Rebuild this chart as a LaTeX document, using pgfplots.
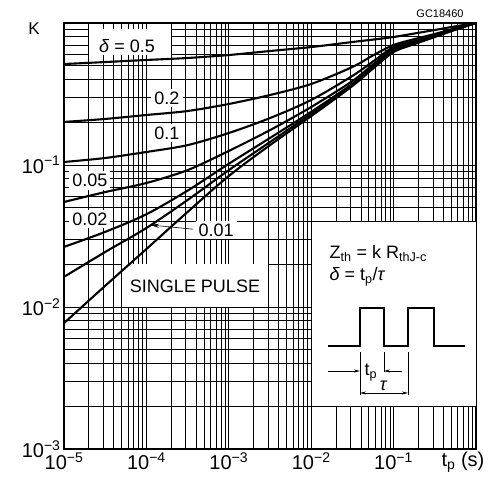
\documentclass[border=0pt]{standalone}
\usepackage{fontspec}
\setmainfont{Liberation Sans}
\usepackage{pgfplots}
\pgfplotsset{compat=1.18}
\usetikzlibrary{arrows.meta}
\newcommand{\lab}{\fontsize{18}{21}\selectfont}
\newcommand{\tck}{\fontsize{20}{24}\selectfont}
\pgfplotsset{curve/.style={black, line width=2.1pt, smooth, mark=none}}
\begin{document}
\begin{tikzpicture}[x=1pt,y=1pt]
\useasboundingbox (0,0) rectangle (495,479);
\begin{axis}[
    at={(64pt,30pt)}, anchor=south west,
    scale only axis, width=412pt, height=426pt,
    xmode=log, ymode=log,
    xmin=1e-5, xmax=1, ymin=1e-3, ymax=1,
    xtick={1e-5,1e-4,1e-3,1e-2,1e-1,1},
    xticklabels={10\textsuperscript{−5},10\textsuperscript{−4},10\textsuperscript{−3},10\textsuperscript{−2},10\textsuperscript{−1},},
    ytick={1e-3,1e-2,1e-1,1},
    yticklabels={10\textsuperscript{−3},10\textsuperscript{−2},10\textsuperscript{−1},},
    minor xtick={2e-5,3e-5,4e-5,5e-5,6e-5,7e-5,8e-5,9e-5,
                 2e-4,3e-4,4e-4,5e-4,6e-4,7e-4,8e-4,9e-4,
                 2e-3,3e-3,4e-3,5e-3,6e-3,7e-3,8e-3,9e-3,
                 2e-2,3e-2,4e-2,5e-2,6e-2,7e-2,8e-2,9e-2,
                 0.2,0.3,0.4,0.5,0.6,0.7,0.8,0.9},
    minor ytick={2e-3,3e-3,4e-3,5e-3,6e-3,7e-3,8e-3,9e-3,
                 2e-2,3e-2,4e-2,5e-2,6e-2,7e-2,8e-2,9e-2,
                 0.2,0.3,0.4,0.5,0.6,0.7,0.8,0.9},
    grid=both,
    major grid style={black, line width=0.6pt},
    minor grid style={black, line width=0.6pt},
    tick style={draw=none},
    axis line style={line width=1.1pt},
    ticklabel style={font=\tck},
]
% cut-outs in the grid
\fill[white] (axis cs:2e-5,0.6) rectangle (axis cs:2e-4,0.9);
\fill[white] (axis cs:5e-5,1e-2) rectangle (axis cs:3e-3,2e-2);
\filldraw[fill=white, draw=black, line width=0.6pt] (axis cs:1e-2,2e-3) rectangle (axis cs:1,4e-2);

% curve labels
\node[font=\lab] at (rel axis cs:0.153,0.945) {\textit{δ} = 0.5};
\node[font=\lab, fill=white, inner sep=3pt] at (rel axis cs:0.25,0.824) {0.2};
\node[font=\lab, fill=white, inner sep=3pt] at (rel axis cs:0.25,0.742) {0.1};
\node[font=\lab, fill=white, inner sep=3pt] at (rel axis cs:0.063,0.631) {0.05};
\node[font=\lab, fill=white, inner sep=3pt] at (rel axis cs:0.063,0.540) {0.02};
\node[font=\lab, fill=white, inner sep=3pt] at (rel axis cs:0.369,0.514) {0.01};
\node[font=\lab] at (rel axis cs:0.318,0.383) {SINGLE PULSE};

% delta = 0.5
\addplot[curve] coordinates {
    (1e-5,0.514) (3.16e-5,0.531) (1e-4,0.549) (3.16e-4,0.567) (1e-3,0.595)
    (3.16e-3,0.635) (1e-2,0.677) (3.16e-2,0.735) (0.0573,0.765) (0.1,0.797)
    (0.18,0.844) (0.316,0.893) (0.548,0.945) (1,1.0)
};
% delta = 0.2
\addplot[curve] coordinates {
    (1e-5,0.201) (3.16e-5,0.211) (1e-4,0.225) (3.16e-4,0.240) (1e-3,0.269)
    (3.16e-3,0.311) (1e-2,0.372) (3.16e-2,0.490) (0.0573,0.595) (0.1,0.700)
    (0.18,0.771) (0.316,0.837) (0.548,0.915) (1,1.0)
};
% delta = 0.1
\addplot[curve] coordinates {
    (1e-5,0.105) (3.16e-5,0.112) (1e-4,0.1235) (3.16e-4,0.138) (1e-3,0.168)
    (3.16e-3,0.214) (1e-2,0.287) (3.16e-2,0.424) (0.0573,0.540) (0.1,0.677)
    (0.18,0.747) (0.316,0.823) (0.548,0.907) (1,1.0)
};
% delta = 0.05
\addplot[curve] coordinates {
    (1e-5,0.0549) (3.16e-5,0.0645) (1e-4,0.0747) (3.16e-4,0.092) (1e-3,0.1256)
    (3.16e-3,0.176) (1e-2,0.256) (3.16e-2,0.390) (0.0573,0.515) (0.1,0.656)
    (0.18,0.735) (0.316,0.816) (0.548,0.907) (1,1.0)
};
% delta = 0.02
\addplot[curve] coordinates {
    (1e-5,0.0265) (3.16e-5,0.0338) (1e-4,0.045) (3.16e-4,0.066) (1e-3,0.102)
    (3.16e-3,0.155) (1e-2,0.237) (3.16e-2,0.373) (0.0573,0.498) (0.1,0.640)
    (0.18,0.729) (0.316,0.810) (0.548,0.900) (1,1.0)
};
% delta = 0.01
\addplot[curve] coordinates {
    (1e-5,0.0163) (3.16e-5,0.0244) (1e-4,0.036) (3.16e-4,0.0567) (1e-3,0.092)
    (3.16e-3,0.145) (1e-2,0.229) (3.16e-2,0.366) (0.0573,0.490) (0.1,0.635)
    (0.18,0.723) (0.316,0.803) (0.548,0.893) (1,1.0)
};
% single pulse
\addplot[curve] coordinates {
    (1e-5,0.0077) (3.16e-5,0.0141) (1e-4,0.0256) (3.16e-4,0.0467) (1e-3,0.0837)
    (3.16e-3,0.138) (1e-2,0.221) (3.16e-2,0.360) (0.0573,0.482) (0.1,0.625)
    (0.18,0.711) (0.316,0.797) (0.548,0.893) (1,1.0)
};

% arrow to the 0.01 curve
\draw[line width=0.6pt, -{Stealth[length=9pt,width=4pt]}] (rel axis cs:0.313,0.516) -- (rel axis cs:0.209,0.526);

% box with definitions
\node[font=\lab, anchor=west] at (rel axis cs:0.636,0.458) {Z\textsubscript{th} = k R\textsubscript{thJ-c}};
\node[font=\lab, anchor=west] at (rel axis cs:0.636,0.404) {\textit{δ} = t\textsubscript{p}/\textit{τ}};
\draw[line width=2pt] (rel axis cs:0.6408,0.2418) -- (rel axis cs:0.7184,0.2418) -- (rel axis cs:0.7184,0.331)
    -- (rel axis cs:0.7767,0.331) -- (rel axis cs:0.7767,0.2418) -- (rel axis cs:0.8350,0.2418)
    -- (rel axis cs:0.8350,0.331) -- (rel axis cs:0.8981,0.331) -- (rel axis cs:0.8981,0.2418)
    -- (rel axis cs:0.9733,0.2418);
\draw[line width=0.6pt] (rel axis cs:0.7184,0.2277) -- (rel axis cs:0.7184,0.1268);
\draw[line width=0.6pt] (rel axis cs:0.7767,0.2277) -- (rel axis cs:0.7767,0.1808);
\draw[line width=0.6pt] (rel axis cs:0.8350,0.2277) -- (rel axis cs:0.8350,0.1268);
\draw[line width=0.6pt, -{Stealth[length=6pt,width=3pt]}] (rel axis cs:0.6408,0.1831) -- (rel axis cs:0.7184,0.1831);
\draw[line width=0.6pt, -{Stealth[length=6pt,width=3pt]}] (rel axis cs:0.8204,0.1831) -- (rel axis cs:0.7767,0.1831);
\draw[line width=0.6pt, {Stealth[length=6pt,width=3pt]}-{Stealth[length=6pt,width=3pt]}] (rel axis cs:0.7184,0.1315) -- (rel axis cs:0.8350,0.1315);
\node[font=\lab] at (rel axis cs:0.7450,0.1800) {t\textsubscript{p}};
\node[font=\lab] at (rel axis cs:0.7760,0.1480) {\textit{τ}};
\end{axis}
\node[font=\fontsize{17}{20}\selectfont] at (34,450) {K};
\node[font=\tck] at (463,17) {t\textsubscript{p} (s)};
\node[font=\fontsize{11}{13}\selectfont] at (440,465) {GC18460};
\end{tikzpicture}
\end{document}
